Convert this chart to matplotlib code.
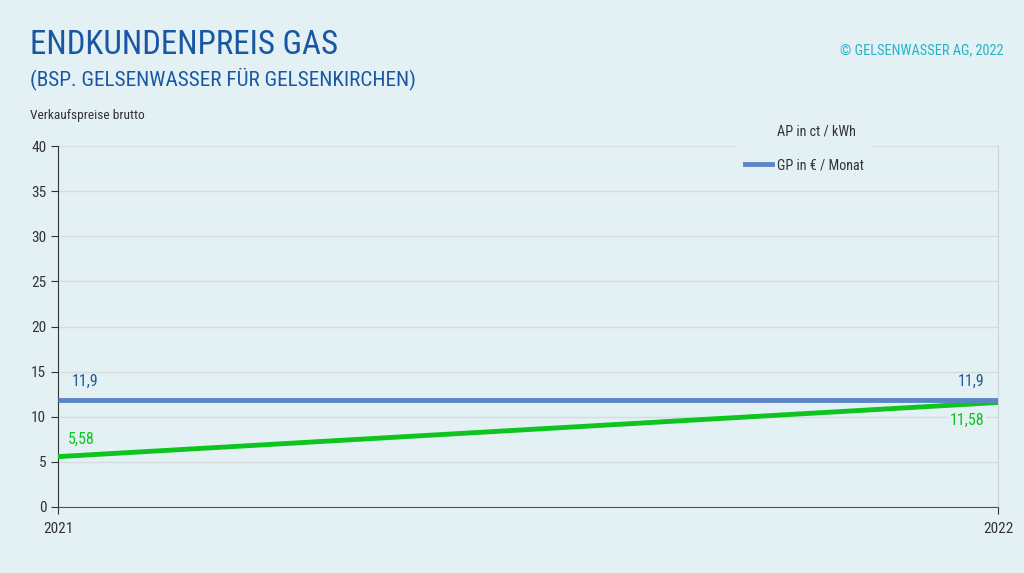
import matplotlib.pyplot as plt
from matplotlib.lines import Line2D

# Daten
jahre = ['2021', '2022']
ap_ct_kwh = [5.58, 11.58]
gp_eur_monat = [11.9, 11.9]
yticks = [0, 5, 10, 15, 20, 25, 30, 35, 40]

bg = '#e3f1f5'
blau = '#5b86c6'
gruen = '#0ec41f'

plt.rcParams['font.family'] = ['Roboto Condensed', 'DejaVu Sans']

fig = plt.figure(figsize=(10.24, 5.73), dpi=100, facecolor=bg)
ax = fig.add_axes([58/1024, 1-507/573, 940/1024, 361/573])
ax.set_facecolor(bg)

x = [0, 1]
ax.plot(x, ap_ct_kwh, color=gruen, lw=3.5, solid_capstyle='butt', zorder=3)
ax.plot(x, gp_eur_monat, color=blau, lw=3.5, solid_capstyle='butt', zorder=4)

ax.set_xlim(0, 1)
ax.set_ylim(0, 40)
ax.set_yticks(yticks)
ax.set_xticks(x)
ax.set_xticklabels(jahre)
ax.grid(axis='y', color='#d6dcdc', lw=1)
ax.set_axisbelow(True)
ax.spines['top'].set_visible(False)
ax.spines['right'].set_color('#cfd4d4')
ax.spines['left'].set_color('#333333')
ax.spines['bottom'].set_color('#555555')
ax.tick_params(axis='both', labelsize=11, colors='#333333', length=5)
ax.tick_params(axis='x', pad=6)

# Werte-Labels
ax.annotate('11,9', (x[0], gp_eur_monat[0]), xytext=(10, 10), textcoords='offset points',
            color='#1f5b99', fontsize=11.5)
ax.annotate('11,9', (x[1], gp_eur_monat[1]), xytext=(-10, 10), textcoords='offset points',
            color='#1f5b99', fontsize=11.5, ha='right')
ax.annotate('5,58', (x[0], ap_ct_kwh[0]), xytext=(7, 9), textcoords='offset points',
            color=gruen, fontsize=11.5)
ax.annotate('11,58', (x[1], ap_ct_kwh[1]), xytext=(-10, -16), textcoords='offset points',
            color=gruen, fontsize=11.5, ha='right',
            bbox=dict(facecolor=bg, edgecolor='none', pad=1))

handles = [Line2D([], [], color=gruen, lw=0),
           Line2D([], [], color=blau, lw=3.5)]
leg = ax.legend(handles, ['AP in ct / kWh', 'GP in € / Monat'], loc='upper right',
                bbox_to_anchor=(0.866, 1.083), frameon=True, facecolor=bg, edgecolor='none',
                fontsize=10.2, handlelength=1.9, handletextpad=0.3, labelspacing=1.4,
                borderpad=0.6, borderaxespad=0, framealpha=1)
leg.set_zorder(5)
for t in leg.get_texts():
    t.set_color('#333333')

fig.text(30/1024, 1-45/573, 'ENDKUNDENPREIS GAS', color='#1a57a2', fontsize=23.7, va='center')
fig.text(30/1024, 1-79/573, '(BSP. GELSENWASSER FÜR GELSENKIRCHEN)', color='#1a57a2',
         fontsize=15.3, va='center')
fig.text(30/1024, 1-115/573, 'Verkaufspreise brutto', color='#333333', fontsize=9.6, va='center')
fig.text(1003/1024, 1-50/573, '© GELSENWASSER AG, 2022', color='#27b3c4', fontsize=10.4,
         va='center', ha='right')

fig.savefig('out.png', dpi=100, facecolor=bg)
